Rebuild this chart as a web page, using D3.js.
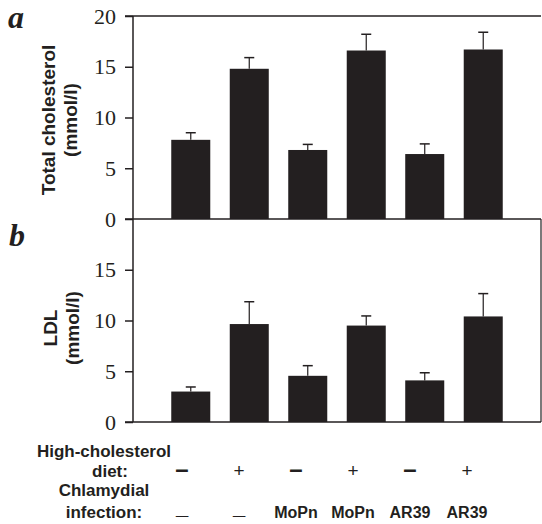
<!DOCTYPE html>
<html>
<head>
<meta charset="utf-8">
<script src="https://cdn.jsdelivr.net/npm/d3@7"></script>
<style>
  body { margin: 0; background: #fff; }
  svg { display: block; }
</style>
</head>
<body>
<svg id="chart" width="542" height="524"></svg>
<script>
// data
var groups = ['g1', 'g2', 'g3', 'g4', 'g5', 'g6']
var totalMean = [7.8, 14.8, 6.8, 16.6, 6.4, 16.7]
var totalErr  = [0.7, 1.1, 0.55, 1.6, 1.0, 1.7]
var ldlMean = [3.0, 9.65, 4.55, 9.5, 4.1, 10.4]
var ldlErr  = [0.45, 2.2, 1.0, 0.95, 0.75, 2.25]
var dietRow = ['\u2013', '+', '\u2013', '+', '\u2013', '+']
var infectionRow = ['_', '_', 'MoPn', 'MoPn', 'AR39', 'AR39']
var ticksA = [0, 5, 10, 15, 20]
var ticksB = [0, 5, 10, 15]

var ink = '#231f20'
var serif = '"Liberation Serif", "Times New Roman", serif'
var sans = '"Liberation Sans", Arial, Helvetica, sans-serif'

var svg = d3.select('#chart')

var left = 133, right = 541
var x = d3.scaleBand().domain(groups).range([left, right])
  .paddingInner(0.333).paddingOuter(0.654)
var xl = d3.scalePoint().domain(groups).range([182, 467])

var yA = d3.scaleLinear().domain([0, 20]).range([219, 16])
var yB = d3.scaleLinear().domain([0, 20]).range([422, 219])

function panel(y, means, errs, ticks) {
  var g = svg.append('g')
  // bars
  g.selectAll('rect').data(groups).enter().append('rect')
    .attr('x', function (d) { return x(d) })
    .attr('width', x.bandwidth())
    .attr('y', function (d, i) { return y(means[i]) })
    .attr('height', function (d, i) { return y(0) - y(means[i]) })
    .attr('fill', ink)
  // upper error bars
  var eb = g.selectAll('g.err').data(groups).enter().append('g').attr('class', 'err')
  eb.append('line')
    .attr('x1', function (d) { return x(d) + x.bandwidth() / 2 })
    .attr('x2', function (d) { return x(d) + x.bandwidth() / 2 })
    .attr('y1', function (d, i) { return y(means[i]) })
    .attr('y2', function (d, i) { return y(means[i] + errs[i]) })
    .attr('stroke', ink).attr('stroke-width', 1.2)
  eb.append('line')
    .attr('x1', function (d) { return x(d) + x.bandwidth() / 2 - 5 })
    .attr('x2', function (d) { return x(d) + x.bandwidth() / 2 + 5 })
    .attr('y1', function (d, i) { return y(means[i] + errs[i]) })
    .attr('y2', function (d, i) { return y(means[i] + errs[i]) })
    .attr('stroke', ink).attr('stroke-width', 1.5)
  // axis
  var ax = g.append('g').attr('transform', 'translate(' + left + ',0)')
    .call(d3.axisLeft(y).tickValues(ticks).tickSize(8).tickPadding(9).tickFormat(d3.format('d')))
  ax.select('.domain').remove()
  ax.selectAll('line').attr('stroke', ink).attr('stroke-width', 1.5)
  ax.selectAll('text').attr('fill', ink)
    .style('font-family', serif).style('font-size', '22px')
  // baseline
  g.append('line').attr('x1', left - 8).attr('x2', right)
    .attr('y1', y(0)).attr('y2', y(0))
    .attr('stroke', ink).attr('stroke-width', 1.5)
}

panel(yA, totalMean, totalErr, ticksA)
panel(yB, ldlMean, ldlErr, ticksB)

// frame
svg.append('line').attr('x1', left - 8).attr('x2', right)
  .attr('y1', yA(20)).attr('y2', yA(20)).attr('stroke', ink).attr('stroke-width', 1.5)
svg.append('line').attr('x1', left).attr('x2', left)
  .attr('y1', yA(20)).attr('y2', yB(0)).attr('stroke', ink).attr('stroke-width', 1.5)
svg.append('line').attr('x1', right).attr('x2', right)
  .attr('y1', yB(20)).attr('y2', yB(0)).attr('stroke', ink).attr('stroke-width', 1.2)

// y labels
function ylabel(cx, cy, lines) {
  var t = svg.append('text')
    .attr('transform', 'translate(' + cx + ',' + cy + ') rotate(-90)')
    .attr('text-anchor', 'middle')
    .style('font-family', sans).style('font-weight', 'bold').style('font-size', '19px')
    .attr('fill', ink)
  lines.forEach(function (s, i) {
    t.append('tspan').attr('x', 0).attr('dy', i === 0 ? 0 : 22).text(s)
  })
}
ylabel(55, 120, ['Total cholesterol', '(mmol/l)'])
ylabel(57, 328, ['LDL', '(mmol/l)'])

// panel letters
svg.append('text').attr('x', 8).attr('y', 28).text('a')
  .style('font-family', serif).style('font-weight', 'bold').style('font-style', 'italic')
  .style('font-size', '32px').attr('fill', ink)
svg.append('text').attr('x', 9).attr('y', 246).text('b')
  .style('font-family', serif).style('font-weight', 'bold').style('font-style', 'italic')
  .style('font-size', '32px').attr('fill', ink)

// condition rows
var rowLabels = [['High-cholesterol', 457], ['diet:', 477], ['Chlamydial', 496], ['infection:', 518]]
svg.selectAll('text.rowlab').data(rowLabels).enter().append('text')
  .attr('class', 'rowlab')
  .attr('x', function (d, i) { return i === 1 ? 110 : 104 })
  .attr('y', function (d) { return d[1] })
  .attr('text-anchor', 'middle')
  .style('font-family', sans).style('font-weight', 'bold').style('font-size', '17px')
  .attr('fill', ink)
  .text(function (d) { return d[0] })

svg.selectAll('text.diet').data(groups).enter().append('text')
  .attr('class', 'diet')
  .attr('x', function (d) { return xl(d) })
  .attr('y', 477)
  .attr('text-anchor', 'middle')
  .style('font-family', sans).style('font-weight', function (d, i) { return dietRow[i] === '+' ? 'normal' : 'bold' })
  .style('font-size', function (d, i) { return dietRow[i] === '+' ? '19px' : '24px' })
  .attr('fill', ink)
  .text(function (d, i) { return dietRow[i] })

svg.selectAll('text.inf').data(groups).enter().append('text')
  .attr('class', 'inf')
  .attr('x', function (d) { return xl(d) })
  .attr('y', function (d, i) { return infectionRow[i] === '_' ? 514 : 518 })
  .attr('text-anchor', 'middle')
  .style('font-family', sans).style('font-weight', 'bold')
  .style('font-size', function (d, i) { return infectionRow[i] === '_' ? '22px' : '16px' })
  .attr('fill', ink)
  .text(function (d, i) { return infectionRow[i] })
</script>
</body>
</html>
